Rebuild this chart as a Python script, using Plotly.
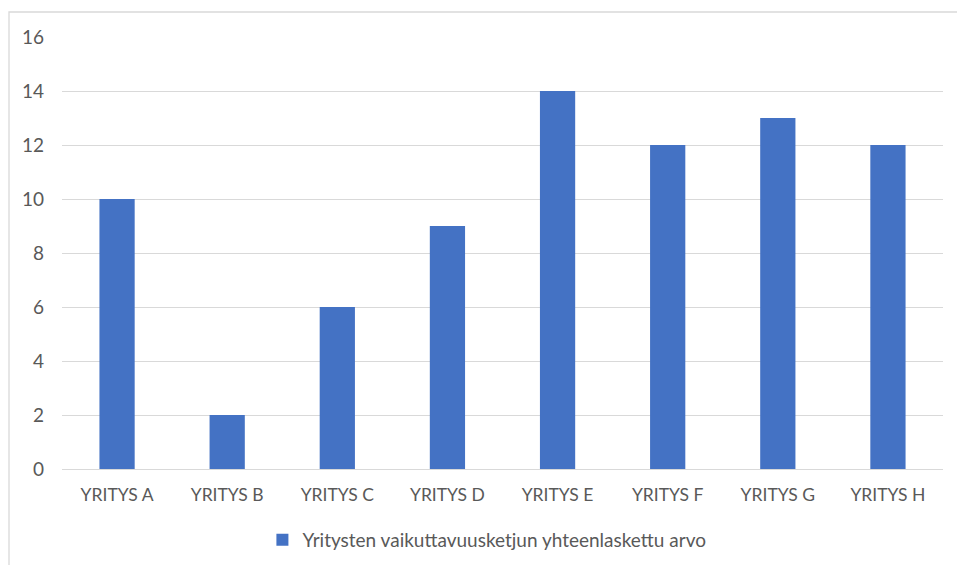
import plotly.graph_objects as go

# Company categories and their summed impact-chain values
companies = ["YRITYS A", "YRITYS B", "YRITYS C", "YRITYS D",
             "YRITYS E", "YRITYS F", "YRITYS G", "YRITYS H"]
values = [10, 2, 6, 9, 14, 12, 13, 12]
y_ticks = [0, 2, 4, 6, 8, 10, 12, 14, 16]
series_name = "Yritysten vaikuttavuusketjun yhteenlaskettu arvo"

W, H = 957, 565
ML, MR, MT, MB = 62, 14, 37, 96
pw, ph = W - ML - MR, H - MT - MB

fig = go.Figure(go.Bar(
    x=companies, y=values, name=series_name,
    marker=dict(color="#4472C4", line=dict(width=0)),
    showlegend=True,
))

grey = "#595959"
base = "Lato, Liberation Sans, sans-serif"

# Outer chart frame (top and left edges visible)
fx0 = (9 - ML) / pw
fy1 = (H - MB - 12) / ph
fig.add_shape(type="rect", xref="paper", yref="paper",
              x0=fx0, x1=1.2, y0=-0.5, y1=fy1,
              line=dict(color="#d9d9d9", width=1.3), fillcolor="rgba(0,0,0,0)",
              layer="below")

fig.update_layout(
    width=W, height=H,
    margin=dict(l=ML, r=MR, t=MT, b=MB, autoexpand=False),
    paper_bgcolor="white", plot_bgcolor="white",
    font=dict(family=base, size=19, color=grey),
    bargap=0.68,
    xaxis=dict(showgrid=False, showline=False, ticks="",
               tickfont=dict(family=base, size=17.5, color=grey),
               ticklabelstandoff=13),
    yaxis=dict(range=[0, 16], tickvals=y_ticks, showgrid=True,
               gridcolor="#d9d9d9", gridwidth=1, zeroline=True,
               zerolinecolor="#d9d9d9", zerolinewidth=1, showline=False,
               ticks="", tickfont=dict(family=base, size=19, color=grey),
               ticklabelstandoff=17),
    legend=dict(orientation="h", x=0.4823, xanchor="center",
                y=(469 - 540) / ph, yanchor="middle",
                font=dict(family=base, size=19, color=grey),
                itemwidth=30, bgcolor="rgba(0,0,0,0)"),
)

fig.write_html("out.html")
